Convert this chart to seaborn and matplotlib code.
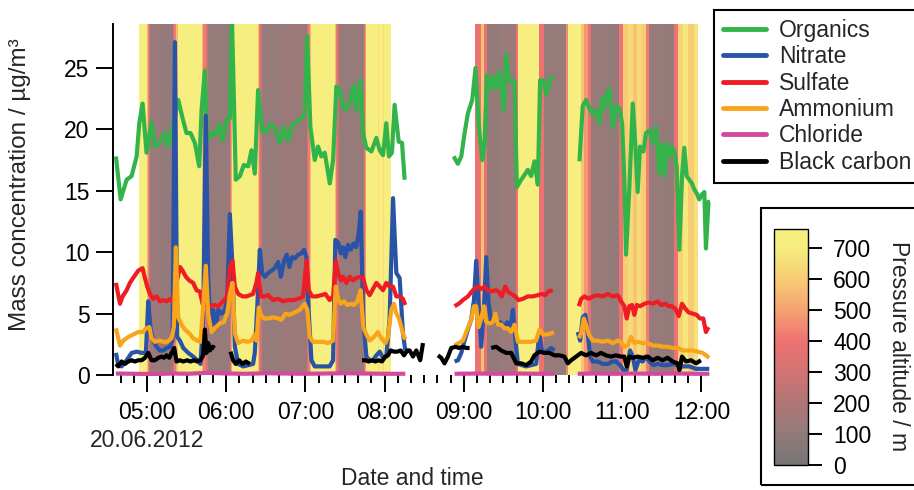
import numpy as np
import pandas as pd
import matplotlib
matplotlib.use("Agg")
import matplotlib.pyplot as plt
import matplotlib.dates as mdates
import matplotlib.transforms as mtransforms
from matplotlib.colors import LinearSegmentedColormap, Normalize
from matplotlib.cm import ScalarMappable
from matplotlib.patches import Rectangle
from matplotlib.lines import Line2D
from matplotlib.ticker import MultipleLocator
import seaborn as sns

nan = np.nan
# ---------------- data (time = minutes after 04:30, 20.06.2012) ----------------
names = ["Organics", "Nitrate", "Sulfate", "Ammonium", "Chloride", "Black carbon"]
colors = ["#33b44a", "#2853a6", "#ee1c25", "#f9a51b", "#d24a9e", "#000000"]

org_t = [6.5, 10.1, 14.6, 18.4, 22.2, 24.2, 26.7, 29.7, 33.5, 36.0, 39.8, 43.6, 46.1, 53.7, 57.0, 60.0,
         63.0, 66.3, 69.6, 71.4, 73.9, 75.6, 78.9, 81.4, 84.7, 87.3, 90.3, 92.8, 94.3, 97.3, 100.4, 103.4,
         106.7, 109.2, 111.7, 114.2, 117.5, 120.5, 123.6, 126.8, 130.6, 133.7, 137.0, 140.2, 143.2, 147.0,
         149.5, 151.3, 153.8, 157.1, 159.6, 162.1, 164.7, 168.5, 171.0, 173.5, 176.0, 178.5, 181.1, 184.1,
         186.6, 188.6, 191.7, 193.7, 196.2, 200.0, 203.8, 206.3, 208.8, 211.3, 213.3, 215.6, 217.6, 220.7,
         223.2, 225.2, nan,
         262.3, 265.5, 268.1, 270.6, 273.1, 276.4, 278.9, 281.4, 284.0, 285.7, 287.5, 289.5, 292.0, 294.0,
         296.6, 298.3, 300.3, 302.1, 304.1, 306.6, 308.4, 310.2, 313.5, 316.0, 318.5, 321.0, 323.5, 326.1,
         327.8, 330.4, 332.4, 334.9, 337.4, nan,
         357.6, 360.1, 362.6, 365.2, 367.7, 370.2, 372.7, 374.8, 376.5, 378.3, 380.3, 382.8, 385.3, 387.9,
         389.9, 391.6, 392.9, 395.4, 398.0, 400.0, 401.7, 403.5, 406.0, 408.0, 410.6, 413.1, 415.6, 418.1,
         420.1, 421.9, 423.7, 425.7, 427.7, 429.5, 431.2, 433.3, 435.3, 437.0, 438.8, 440.8, 442.8, 444.6,
         446.4, 448.4, 450.4, 452.2, 453.4, 455.4, 456.5]
org_v = [17.8, 14.3, 15.9, 16.2, 17.8, 20.5, 22.1, 18.1, 20.6, 18.6, 18.9, 19.7, 18.6, 22.4, 20.9, 19.7,
         19.7, 18.9, 17.0, 21.6, 24.8, 19.1, 19.7, 19.5, 20.4, 19.1, 20.8, 20.9, 29.5, 15.9, 16.2, 17.1,
         17.0, 18.3, 16.4, 23.2, 19.8, 19.8, 20.4, 20.2, 18.9, 20.2, 19.1, 20.4, 20.6, 20.9,
         21.3, 27.6, 20.2, 17.5, 18.6, 17.8, 18.1, 15.6, 17.5, 23.5, 23.2, 21.9, 21.6, 22.4,
         23.6, 21.6, 24.0, 19.7, 18.5, 18.2, 19.3, 18.3, 17.9, 20.5, 17.8, 18.1, 22.0, 19.0,
         18.9, 15.9, nan,
         17.8, 17.2, 17.8, 19.7, 21.3, 22.4, 25.0, 20.2, 17.5, 18.6, 24.4, 23.3, 24.3, 23.3,
         24.7, 23.5, 21.6, 26.1, 24.0, 23.9, 24.0, 15.3, 15.9, 16.3, 16.7, 16.2, 17.4, 15.5,
         24.0, 24.0, 22.8, 23.8, 24.4, nan,
         17.4, 21.9, 22.4, 21.7, 21.2, 21.6, 20.5, 22.5, 21.7, 22.9, 23.3, 20.2, 21.9, 21.7,
         20.5, 15.9, 9.8, 15.3, 22.1, 18.6, 14.9, 18.6, 18.2, 19.7, 19.9, 18.9, 20.2, 16.4,
         18.7, 16.2, 18.9, 17.8, 18.6, 18.2, 17.0, 10.2, 16.2, 18.5, 16.2, 15.9, 15.6, 15.1,
         14.8, 14.3, 14.7, 14.9, 10.3, 14.1, 14.1]

no3_t = [6.5, 8.3, 10.8, 14.6, 18.4, 22.2, 26.0, 29.2, 31.0, 32.8, 34.8, 37.3, 39.8, 42.4, 44.9, 47.4,
         49.4, 51.2, 52.9, 55.0, 57.5, 61.3, 65.0, 68.1, 70.6, 72.6, 74.6, 76.4, 78.4, 80.2, 82.2, 84.0,
         86.5, 89.0, 90.8, 92.8, 94.8, 96.6, 99.1, 102.9, 106.7, 110.4, 111.7, 113.7, 115.5, 117.3, 119.3,
         121.8, 124.3, 126.8, 129.4, 131.4, 133.9, 135.9, 137.9, 140.0, 142.0, 144.5, 147.0, 149.0, 150.8,
         152.6, 154.6, 157.1, 160.9, 164.7, 168.4, 171.0, 172.7, 174.8, 176.8, 178.5, 180.3, 182.3, 184.3,
         186.4, 188.4, 190.4, 191.9, 193.9, 196.2, 198.7, 201.2, 203.8, 206.3, 208.8, 211.3, 213.8, 216.4,
         218.9, 221.4, 223.9, 225.7, nan,
         263.0, 265.6, 268.1, 270.6, 273.1, 275.6, 277.7, 279.4, 281.2, 283.2, 285.2, 287.0, 288.8, 290.8,
         292.8, 295.3, 297.8, 300.4, 302.9, 305.4, 307.2, 308.9, 311.0, 314.0, 317.3, 321.0, 324.8, 327.3,
         329.1, 331.1, 333.6, 336.2, 338.7, nan,
         356.3, 358.1, 360.1, 362.1, 363.9, 365.7, 367.7, 371.5, 375.3, 379.0, 382.8, 385.3, 388.4, 390.9,
         393.4, 395.9, 398.0, 400.0, 402.5, 405.5, 408.0, 410.6, 413.6, 416.9, 420.6, 424.4, 428.2, 432.0,
         435.8, 440.8, 445.9, 450.9, 455.9]
no3_v = [1.8, 0.8, 0.7, 1.2, 1.8, 1.9, 1.8, 1.8, 6.0, 3.7, 2.8, 2.3, 2.0, 2.0, 2.2, 2.3,
         2.8, 27.1, 3.1, 2.8, 2.2, 1.8, 1.5, 1.2, 0.9, 4.5, 21.1, 7.7, 3.7, 5.3, 3.9, 5.3,
         5.0, 5.3, 6.1, 13.1, 8.8, 2.3, 0.9, 0.7, 0.8, 0.9, 1.8, 5.8, 10.2, 8.3, 8.0,
         8.3, 8.5, 8.7, 9.2, 8.0, 9.3, 9.8, 8.8, 9.6, 9.5, 9.8, 9.9, 10.2, 9.6,
         5.0, 1.2, 0.7, 0.7, 0.7, 0.7, 1.2, 11.0, 10.8, 9.9, 10.4, 9.6, 10.6, 10.2,
         10.7, 10.4, 11.5, 13.3, 4.5, 1.5, 1.2, 1.2, 1.6, 1.9, 1.4, 1.5, 4.5, 14.4,
         8.3, 7.9, 3.4, 2.0, nan,
         1.1, 1.2, 1.8, 2.8, 3.7, 4.5, 6.1, 9.3, 5.8, 2.3, 5.3, 9.6, 5.8, 4.3,
         4.5, 4.2, 4.3, 3.9, 4.3, 3.9, 5.3, 3.1, 0.9, 0.8, 0.7, 0.8, 0.9, 3.4,
         2.0, 1.8, 2.0, 2.2, 2.0, nan,
         3.5, 2.8, 4.7, 4.9, 3.4, 1.5, 1.1, 1.1, 0.9, 0.9, 1.1, 1.1, 0.8, 0.4,
         0.4, 2.0, 1.5, 0.4, 1.2, 1.1, 1.5, 1.1, 0.8, 0.9, 0.8, 0.8, 0.9, 0.8,
         0.7, 0.7, 0.5, 0.5, 0.5]

so4_t = [6.5, 9.6, 11.6, 14.6, 17.1, 20.2, 23.4, 26.7, 28.5, 30.2, 32.3, 34.8, 37.3, 39.8, 42.4, 44.9,
         47.4, 49.9, 51.9, 55.0, 57.0, 59.5, 62.0, 65.0, 67.6, 70.1, 72.1, 75.1, 77.7, 80.7, 84.0, 87.7,
         90.8, 92.8, 94.8, 96.6, 99.1, 102.4, 105.4, 107.9, 110.4, 112.9, 114.2, 116.2, 118.8, 121.8,
         125.6, 129.4, 133.1, 136.9, 140.7, 144.5, 148.3, 150.8, 152.6, 155.1, 158.4, 162.1, 165.2, 168.4,
         171.0, 173.0, 174.8, 176.8, 178.5, 181.1, 183.6, 186.1, 188.6, 191.1, 193.7, 196.2, 198.7, 201.2,
         203.8, 206.3, 208.8, 211.3, 213.8, 216.4, 218.9, 221.4, 223.9, 225.7, nan,
         263.0, 266.1, 269.3, 273.1, 276.9, 280.2, 283.2, 285.7, 288.3, 291.3, 293.8, 296.3, 298.8, 301.4,
         303.4, 305.9, 308.9, 311.5, 314.7, 318.5, 322.3, 326.1, 329.1, 331.6, 334.1, 337.4, nan,
         357.1, 358.9, 361.4, 364.7, 367.7, 371.5, 375.3, 379.0, 382.8, 386.6, 389.1, 391.6, 393.4, 395.4,
         397.4, 399.2, 401.0, 403.5, 406.8, 410.1, 413.1, 416.9, 419.4, 422.7, 425.2, 427.7, 430.2, 432.8,
         435.3, 437.8, 440.3, 443.3, 446.4, 448.9, 451.4, 453.4, 455.4]
so4_v = [7.5, 5.8, 6.4, 6.9, 7.5, 8.0, 8.5, 8.7, 7.9, 7.2, 6.6, 6.2, 6.4, 6.0, 6.1, 6.0,
         6.2, 6.0, 7.2, 8.8, 8.5, 8.0, 7.7, 7.5, 6.9, 6.8, 5.8, 5.7, 5.6, 5.7, 5.6, 6.0,
         6.4, 8.7, 9.3, 7.2, 6.6, 6.4, 6.4, 6.5, 6.6, 7.5, 8.3, 6.4, 6.4, 6.5,
         6.1, 6.2, 6.0, 6.1, 6.1, 6.2, 6.4, 9.3, 6.9, 6.4, 6.4, 6.5, 6.6, 6.1,
         6.4, 9.3, 8.3, 7.7, 8.0, 7.5, 8.0, 7.7, 7.9, 8.0, 7.9, 6.9, 6.5, 7.0,
         7.5, 7.2, 6.9, 7.5, 7.2, 7.2, 6.4, 6.4, 6.2, 5.7, nan,
         5.6, 5.8, 6.1, 6.4, 6.9, 7.2, 7.0, 7.2, 6.9, 6.8, 6.9, 6.8, 6.4, 7.2,
         6.8, 6.6, 6.4, 6.1, 6.2, 6.4, 6.4, 6.5, 6.6, 6.5, 6.8, 6.9, nan,
         5.6, 6.2, 6.4, 6.2, 6.4, 6.5, 6.4, 6.6, 6.4, 6.5, 6.0, 5.6, 4.6, 5.6,
         5.7, 4.9, 5.7, 5.6, 5.8, 5.9, 5.8, 6.0, 5.7, 5.8, 5.6, 5.6, 5.4, 4.8,
         5.8, 5.4, 5.1, 5.0, 4.9, 4.6, 4.6, 3.5, 3.9]

nh4_t = [6.5, 9.6, 12.1, 15.9, 19.7, 23.4, 27.2, 29.2, 31.8, 33.5, 36.0, 39.3, 42.4, 45.4, 48.7, 50.4,
         51.9, 53.7, 56.2, 58.7, 62.0, 65.0, 68.1, 70.6, 72.6, 74.6, 76.4, 78.9, 82.2, 85.2, 88.2, 90.8,
         92.8, 94.8, 96.6, 99.1, 102.9, 105.9, 109.2, 111.7, 113.0, 114.7, 116.2, 118.8, 121.8, 125.6,
         129.4, 131.9, 134.9, 138.2, 142.0, 145.7, 149.5, 151.5, 153.3, 155.8, 159.6, 163.4, 167.2, 171.0,
         173.0, 174.8, 176.8, 179.3, 181.8, 184.3, 186.9, 189.4, 191.9, 193.9, 196.2, 198.7, 202.0, 205.0,
         207.5, 210.6, 212.6, 215.1, 217.1, 218.9, 220.6, 222.7, 224.7, 225.9, nan,
         263.0, 266.1, 269.3, 272.6, 275.6, 277.7, 279.4, 281.2, 283.2, 285.2, 287.0, 289.5, 292.0, 293.8,
         295.8, 298.3, 300.9, 303.4, 305.9, 308.4, 311.0, 314.0, 317.3, 321.0, 324.8, 327.3, 329.9, 333.1,
         336.2, 338.2, nan,
         357.1, 358.9, 360.9, 362.6, 364.7, 367.7, 371.5, 375.3, 379.0, 382.8, 386.6, 389.1, 391.6, 394.2,
         396.7, 399.2, 401.7, 405.5, 409.3, 413.1, 416.9, 420.6, 424.4, 428.2, 432.0, 435.8, 439.6, 443.3,
         447.1, 450.9, 453.4, 455.9]
nh4_v = [3.8, 2.4, 2.8, 3.1, 3.3, 3.5, 3.5, 3.8, 3.9, 3.0, 2.7, 2.8, 2.7, 2.7, 3.0, 3.9,
         10.4, 4.7, 4.1, 3.7, 3.4, 3.0, 2.8, 2.7, 5.6, 8.9, 5.0, 3.5, 3.9, 4.2, 4.3, 5.0,
         6.6, 7.5, 3.4, 2.6, 2.8, 2.7, 2.8, 3.3, 2.8, 5.5, 4.9, 4.6, 4.6, 4.7,
         4.6, 4.5, 5.0, 4.9, 5.1, 5.3, 5.8, 5.3, 3.1, 2.7, 2.7, 2.7, 2.6, 2.8,
         7.2, 6.2, 5.8, 6.0, 5.7, 5.8, 5.7, 6.0, 6.9, 3.9, 3.3, 2.8, 3.1, 3.5,
         3.0, 2.6, 3.1, 5.3, 5.8, 5.0, 4.7, 3.9, 3.1, 2.9, nan,
         2.4, 2.6, 2.8, 3.7, 4.5, 5.6, 5.6, 3.9, 4.6, 5.6, 4.3, 4.2, 4.3, 5.0,
         4.1, 4.1, 3.8, 3.8, 3.5, 4.1, 2.7, 2.7, 2.7, 2.7, 2.8, 3.7, 3.3, 3.3,
         3.4, 3.5, nan,
         3.0, 3.4, 4.6, 4.1, 3.3, 2.8, 2.8, 2.7, 2.8, 2.6, 2.8, 2.7, 2.3, 2.4,
         3.1, 2.6, 2.7, 2.6, 2.6, 2.4, 2.4, 2.3, 2.3, 2.2, 2.2, 2.0, 2.0, 2.0,
         1.9, 1.8, 1.6, 1.4]

chl_t = [6.5, 20.0, 35.0, 50.0, 62.0, 75.0, 90.0, 105.0, 120.0, 135.0, 150.0, 165.0, 180.0, 195.0,
         210.0, 225.7, nan,
         263.0, 280.0, 295.0, 310.0, 325.0, 338.7, nan,
         356.3, 370.0, 385.0, 400.0, 415.0, 430.0, 445.0, 456.0]
chl_v = [0.12, 0.10, 0.08, 0.12, 0.10, 0.18, 0.12, 0.10, 0.14, 0.12, 0.10, 0.12, 0.14, 0.12,
         0.10, 0.10, nan,
         0.10, 0.12, 0.10, 0.12, 0.10, 0.10, nan,
         0.10, 0.12, 0.10, 0.12, 0.10, 0.12, 0.10, 0.10]

bc_t = [6.5, 8.3, 10.8, 13.3, 15.9, 18.4, 20.9, 23.4, 26.0, 28.5, 31.0, 33.5, 36.0, 38.6, 41.1, 42.9,
        44.9, 46.9, 48.7, 50.7, 52.4, 55.0, 57.5, 60.5, 63.0, 65.6, 68.1, 70.6, 72.6, 73.9, 75.1, 76.4,
        77.7, 79.7, 81.4, nan,
        93.3, 95.3, 97.3, 99.9, 102.4, 104.9, 107.9, nan,
        192.9, 195.4, 197.9, 200.5, 203.0, 205.5, 208.0, 210.6, 212.6, 214.6, 217.1, 219.6, 222.2, 224.7,
        227.2, 229.0, 231.5, 234.0, 237.0, 239.1, nan,
        250.4, 252.9, 255.4, 258.0, 260.5, 263.8, 266.3, 269.3, 271.8, 274.4, nan,
        290.8, 294.5, 298.3, 302.1, 305.9, 309.7, 313.5, 317.3, 321.0, 323.5, 327.3, 331.1, 334.9, 338.7,
        342.5, 346.2, 348.8, 351.3, 355.1, 358.9, 362.6, 366.4, 370.2, 374.0, 377.8, 381.5, 385.3, 389.1,
        391.6, 393.4, 395.4, 398.0, 401.7, 405.5, 409.3, 413.1, 416.9, 420.6, 424.4, 428.2, 432.0, 433.3,
        435.3, 438.3, 442.1, 445.9, 449.6]
bc_v = [0.9, 0.7, 1.1, 0.9, 1.1, 1.2, 1.1, 1.2, 1.2, 1.4, 1.8, 1.2, 1.2, 1.4, 1.5, 1.4,
        1.6, 1.4, 1.8, 2.2, 1.1, 1.2, 1.1, 1.2, 1.1, 1.2, 1.1, 1.2, 1.6, 3.7, 1.8, 2.6,
        2.0, 2.3, 2.2, nan,
        1.9, 1.2, 0.9, 1.2, 0.9, 1.1, 0.9, nan,
        1.2, 1.2, 1.1, 1.2, 1.1, 1.2, 1.1, 1.5, 1.6, 2.0, 1.9, 1.9, 2.0, 1.6,
        2.0, 2.0, 1.5, 2.0, 1.2, 2.6, nan,
        1.6, 1.4, 0.95, 1.5, 2.2, 2.3, 2.2, 2.3, 2.2, 2.2, nan,
        2.2, 2.3, 2.0, 1.8, 1.8, 0.95, 0.95, 0.8, 1.1, 1.6, 1.9, 1.8, 1.8, 1.6,
        1.6, 1.5, 0.95, 1.2, 1.5, 1.8, 1.6, 1.8, 1.6, 1.8, 1.6, 1.5, 1.6, 1.5,
        1.5, 0.7, 1.5, 1.4, 1.5, 1.4, 1.5, 1.2, 1.4, 1.2, 1.4, 1.1, 0.95, 0.4,
        1.5, 1.1, 1.2, 0.95, 1.2]

# pressure altitude (m), step segments: boundaries (minutes after 04:30) and value per step
alt1_t = [24.2, 29.8, 30.6, 31.4, 32.3, 40.0, 49.9, 50.8, 52.0, 53.2, 71.6, 72.8, 74.4, 76.0, 92.6,
          93.8, 94.6, 114.0, 114.9, 116.0, 117.0, 133.0, 151.1, 152.0, 153.2, 154.1, 172.2, 173.2,
          174.3, 175.3, 194.2, 195.2, 196.2, 205.0, 206.0, 208.5, 209.5, 214.6]
alt1_v = [700, 560, 420, 300, 130, 110, 300, 420, 560, 700, 560, 420, 300, 120, 350, 500, 700,
          560, 420, 300, 120, 135, 300, 420, 560, 700, 560, 420, 300, 120, 350, 480, 700, 650,
          700, 640, 700]
alt2_t = [278.2, 283.2, 285.0, 287.5, 298.0, 309.7, 311.4, 327.3, 330.4, 347.5, 349.3, 358.9, 361.4,
          363.9, 366.4, 378.0, 387.9, 390.4, 394.0, 398.0, 401.0, 404.5, 408.0, 410.5, 420.0, 429.5,
          432.0, 436.0, 440.0, 444.0, 447.6]
alt2_v = [390, 580, 380, 115, 130, 400, 700, 400, 120, 450, 700, 580, 480, 380, 125, 115, 400,
          600, 640, 580, 650, 600, 420, 125, 115, 400, 620, 680, 600, 660]

cb_ticks = [0, 100, 200, 300, 400, 500, 600, 700]
date_label = "20.06.2012"

# ---------------- styling ----------------
sns.set_style("white")
plt.rcParams["font.family"] = ["Liberation Sans", "DejaVu Sans"]
FS = 16.5

W, H = 914, 490
fig = plt.figure(figsize=(W / 100, H / 100), dpi=100)


def fx(px):
    return px / W


def fy(py):
    return 1 - py / H


ax = fig.add_axes([fx(113), fy(375), fx(712) - fx(113), fy(24) - fy(375)])

base = pd.Timestamp("2012-06-20 04:30")


def to_time(m):
    return base + pd.to_timedelta(np.asarray(m, float), unit="min")


series = {
    "Organics": (org_t, org_v), "Nitrate": (no3_t, no3_v), "Sulfate": (so4_t, so4_v),
    "Ammonium": (nh4_t, nh4_v), "Chloride": (chl_t, chl_v), "Black carbon": (bc_t, bc_v),
}
frames = []
for name, (t, v) in series.items():
    t = np.asarray(t, float)
    v = np.asarray(v, float)
    seg = np.cumsum(np.isnan(t))
    ok = ~np.isnan(t)
    frames.append(pd.DataFrame({
        "time": to_time(t[ok]), "value": v[ok], "species": name,
        "unit": [f"{name}_{s}" for s in seg[ok]],
    }))
df = pd.concat(frames, ignore_index=True)

palette = dict(zip(names, colors))
sns.lineplot(data=df, x="time", y="value", hue="species", hue_order=names, palette=palette,
             units="unit", estimator=None, sort=False, lw=3, legend=False, ax=ax)
for ln in ax.lines:
    ln.set_solid_joinstyle("round")
    ln.set_solid_capstyle("butt")
    if matplotlib.colors.to_hex(ln.get_color()) == colors[4]:
        ln.set_clip_on(False)

# altitude colour map
cmap = LinearSegmentedColormap.from_list("alt", [
    (0.0, "#767676"), (120 / 760, "#977a7a"), (250 / 760, "#c27474"), (400 / 760, "#ef7272"),
    (500 / 760, "#f5a272"), (600 / 760, "#f7cc74"), (700 / 760, "#f6ee7e"), (1.0, "#f6f080")])
norm = Normalize(0, 760)

for at, av in ((alt1_t, alt1_v), (alt2_t, alt2_v)):
    xe = mdates.date2num(to_time(at).to_pydatetime())
    ax.pcolormesh(xe, [0, 40], np.array([av], float), cmap=cmap, norm=norm, shading="flat",
                  zorder=0.5, antialiased=False, edgecolors="none", linewidth=0)

ax.set_xlim(to_time(4.3), to_time(458))
ax.set_ylim(0, 28.58)
ax.xaxis.set_major_locator(mdates.HourLocator())
ax.xaxis.set_minor_locator(mdates.MinuteLocator(byminute=range(0, 60, 10)))
ax.xaxis.set_major_formatter(mdates.DateFormatter("%H:%M"))
ax.yaxis.set_major_locator(MultipleLocator(5))
ax.set_xlabel("")
ax.set_ylabel("")
for s in ("top", "right", "bottom"):
    ax.spines[s].set_visible(False)
ax.spines["left"].set_linewidth(1.4)
ax.spines["left"].set_color("black")
ax.tick_params(axis="x", which="major", length=12, width=1.4, direction="out", pad=7,
               labelsize=FS, colors="black", bottom=True)
ax.tick_params(axis="x", which="minor", length=6, width=1.4, direction="out", bottom=True,
               colors="black")
ax.tick_params(axis="y", which="major", length=12, width=1.4, direction="out", pad=5,
               labelsize=FS, colors="black", left=True)
ax.set_facecolor("none")

# date line centred under the first hour tick
trans = mtransforms.blended_transform_factory(ax.transData, fig.transFigure)
ax.text(mdates.date2num(to_time(30).to_pydatetime()), fy(440), date_label, transform=trans,
        ha="center", va="center", fontsize=FS, clip_on=False)
fig.text(fx(412), fy(478), "Date and time", ha="center", va="center", fontsize=FS)
fig.text(fx(20), fy(185), "Mass concentration / µg/m³", rotation=90, ha="center",
         va="center", fontsize=17.5)

# legend
handles = [Line2D([0], [0], color=c, lw=3.5) for c in colors]
leg = fig.legend(handles, names, loc="upper left", bbox_to_anchor=(fx(714), fy(10)),
                 frameon=True, fancybox=False, edgecolor="black", framealpha=1, fontsize=FS,
                 handlelength=1.9, handletextpad=0.55, borderpad=0.38, labelspacing=0.15,
                 borderaxespad=0)
leg.get_frame().set_linewidth(1.5)

# colorbar
cax = fig.add_axes([fx(774), fy(465), fx(808) - fx(774), fy(229) - fy(465)])
cb = fig.colorbar(ScalarMappable(norm=norm, cmap=cmap), cax=cax, ticks=cb_ticks)
cb.outline.set_linewidth(1.0)
cb.outline.set_edgecolor("black")
cax.tick_params(length=10, width=1.4, pad=8, labelsize=FS, colors="black")
fig.text(fx(898), fy(346), "Pressure altitude / m", rotation=270, ha="center", va="center",
         fontsize=FS)
fig.add_artist(Rectangle((fx(761), fy(485)), fx(180), fy(208) - fy(485), transform=fig.transFigure,
                         fill=False, edgecolor="black", lw=1.5, clip_on=False))

fig.savefig("out.png", dpi=100)
